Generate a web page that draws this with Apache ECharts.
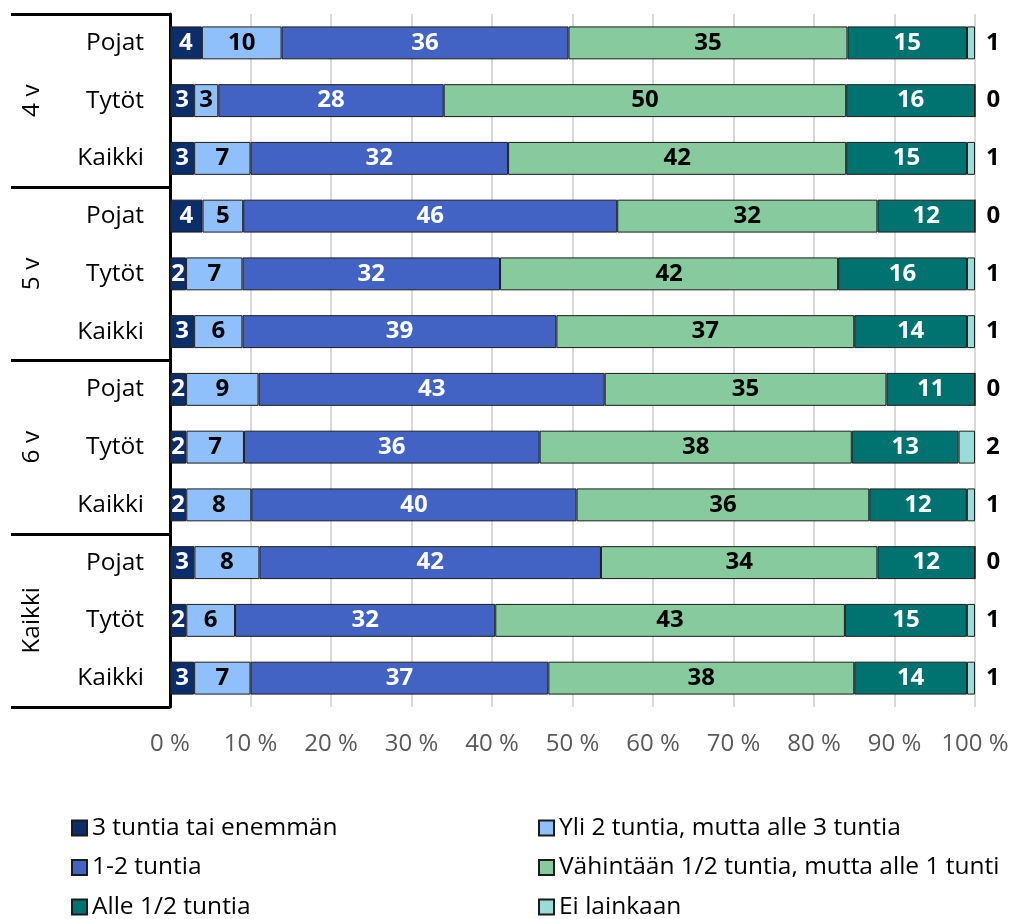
<!DOCTYPE html>
<html>
<head>
<meta charset="utf-8">
<script src="https://cdn.jsdelivr.net/npm/echarts@6/dist/echarts.min.js"></script>
<style>
  html, body { margin: 0; padding: 0; background: #fff; }
  #chart { width: 1013px; height: 919px; }
</style>
</head>
<body>
<div id="chart"></div>
<script>
// Rows, top to bottom: three subgroups inside each age group
const rowLabels = ['Pojat', 'Tytöt', 'Kaikki', 'Pojat', 'Tytöt', 'Kaikki',
                   'Pojat', 'Tytöt', 'Kaikki', 'Pojat', 'Tytöt', 'Kaikki'];
const groupLabels = ['4 v', '5 v', '6 v', 'Kaikki'];
const seriesNames = [
  '3 tuntia tai enemmän',
  'Yli 2 tuntia, mutta alle 3 tuntia',
  '1-2 tuntia',
  'Vähintään 1/2 tuntia, mutta alle 1 tunti',
  'Alle 1/2 tuntia',
  'Ei lainkaan'
];
// Percentages per answer category (one value per row)
const threeOrMore   = [4, 3, 3, 4, 2, 3, 2, 2, 2, 3, 2, 3];
const twoToThree    = [10, 3, 7, 5, 7, 6, 9, 7, 8, 8, 6, 7];
const oneToTwo      = [36, 28, 32, 46, 32, 39, 43, 36, 40, 42, 32, 37];
const halfToOne     = [35, 50, 42, 32, 42, 37, 35, 38, 36, 34, 43, 38];
const underHalf     = [15, 16, 15, 12, 16, 14, 11, 13, 12, 12, 15, 14];
const notAtAll      = [1, 0, 1, 0, 1, 1, 0, 2, 1, 0, 1, 1];
const xTicks = [0, 10, 20, 30, 40, 50, 60, 70, 80, 90, 100];

const valueSets = [threeOrMore, twoToThree, oneToTwo, halfToOne, underHalf, notAtAll];
const colors = ['#0b2e6b', '#8fc0fb', '#4263c4', '#86ca9e', '#007370', '#9adcd7'];
const labelColors = ['#fff', '#000', '#fff', '#000', '#fff', '#000'];

// Each bar is scaled to its row total so every row fills 0–100 %
const rowTotals = rowLabels.map((_, i) => valueSets.reduce((s, arr) => s + arr[i], 0));

const font = '"Open Sans", "Noto Sans", sans-serif';

const series = valueSets.map((vals, si) => {
  const last = si === valueSets.length - 1;
  return {
    name: seriesNames[si],
    type: 'bar',
    stack: 'total',
    barWidth: '57%',
    yAxisIndex: 0,
    data: vals.map((v, i) => v / rowTotals[i] * 100),
    itemStyle: { color: colors[si], borderColor: '#1b1b1b', borderWidth: 1 },
    label: {
      show: true,
      position: last ? 'right' : 'inside',
      distance: last ? 11 : 5,
      color: last ? '#000' : labelColors[si],
      fontFamily: font,
      fontWeight: 'bold',
      fontSize: 24,
      formatter: p => String(vals[p.dataIndex])
    },
    emphasis: { disabled: true }
  };
});

const legendText = { color: '#000', fontFamily: font, fontSize: 24.5, lineHeight: 26 };

const chart = echarts.init(document.getElementById('chart'), null, { renderer: 'canvas' });
chart.setOption({
  animation: false,
  backgroundColor: '#fff',
  grid: { left: 170, right: 38, top: 14, bottom: 212 },
  xAxis: {
    type: 'value',
    min: xTicks[0],
    max: xTicks[xTicks.length - 1],
    interval: xTicks[1] - xTicks[0],
    axisLine: { show: false },
    axisTick: { show: false },
    splitLine: { show: true, lineStyle: { color: '#d9d9d9', width: 2 } },
    axisLabel: {
      margin: 25,
      color: '#595959',
      fontFamily: font,
      fontSize: 24,
      formatter: '{value} %'
    }
  },
  yAxis: [
    {
      type: 'category',
      data: rowLabels,
      inverse: true,
      position: 'left',
      axisLine: { show: false },
      axisTick: { show: false },
      axisLabel: {
        interval: 0,
        margin: 26,
        color: '#000',
        fontFamily: font,
        fontSize: 24.5
      }
    },
    {
      // Age groups: boxed by long outward ticks at the group boundaries
      type: 'category',
      data: groupLabels,
      inverse: true,
      position: 'left',
      axisLine: { show: true, lineStyle: { color: '#000', width: 3 } },
      axisTick: { show: true, interval: 0, length: 159, lineStyle: { color: '#000', width: 3 } },
      axisLabel: {
        interval: 0,
        rotate: 90,
        margin: 138,
        align: 'center',
        verticalAlign: 'middle',
        color: '#000',
        fontFamily: font,
        fontSize: 24.5
      }
    }
  ],
  legend: [
    {
      orient: 'vertical',
      left: 71,
      top: 815,
      height: 130,
      padding: 0,
      icon: 'rect',
      itemWidth: 15,
      itemHeight: 15,
      itemGap: 13.5,
      data: [seriesNames[0], seriesNames[2], seriesNames[4]],
      textStyle: legendText
    },
    {
      orient: 'vertical',
      left: 538,
      top: 815,
      height: 130,
      padding: 0,
      icon: 'rect',
      itemWidth: 15,
      itemHeight: 15,
      itemGap: 13.5,
      data: [seriesNames[1], seriesNames[3], seriesNames[5]],
      textStyle: legendText
    }
  ],
  series: series
});
</script>
</body>
</html>
